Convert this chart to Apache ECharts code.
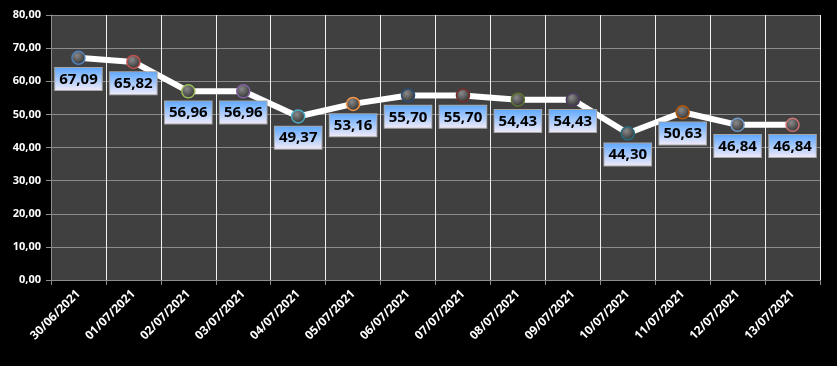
<!DOCTYPE html>
<html><head><meta charset="utf-8">
<script src="https://cdn.jsdelivr.net/npm/echarts@6/dist/echarts.min.js"></script>
<style>html,body{margin:0;padding:0;background:#000;}#c{width:837px;height:366px;}</style>
</head><body><div id="c"></div>
<script>
const categories = ['30/06/2021','01/07/2021','02/07/2021','03/07/2021','04/07/2021','05/07/2021','06/07/2021','07/07/2021','08/07/2021','09/07/2021','10/07/2021','11/07/2021','12/07/2021','13/07/2021'];
const values = [67.09,65.82,56.96,56.96,49.37,53.16,55.70,55.70,54.43,54.43,44.30,50.63,46.84,46.84];
const pointColors = ['#4F81BD','#C0504D','#9BBB59','#8064A2','#4BACC6','#F79646','#2C4D75','#772C2A','#5F7530','#4D3B62','#276A7C','#B65708','#729ACA','#CD7371'];

const fmt = v => v.toFixed(2).replace('.', ',');
const chart = echarts.init(document.getElementById('c'), null, {renderer:'canvas'});
const font = "'Open Sans', 'Liberation Sans', Arial, sans-serif";
chart.setOption({
  backgroundColor:'#000',
  animation:false,
  grid:{left:51,right:17,top:15,bottom:86,show:true,backgroundColor:'#404040',borderWidth:0},
  xAxis:{type:'category',data:categories,boundaryGap:true,
    axisLine:{lineStyle:{color:'#8c8c8c',width:1}},
    axisTick:{show:true,length:5,lineStyle:{color:'#8c8c8c'}},
    splitLine:{show:true,lineStyle:{color:'#f0f0f0',width:1}},
    axisLabel:{rotate:45,color:'#ffffff',fontWeight:'bold',fontSize:12,fontFamily:font,margin:12,interval:0}},
  yAxis:{type:'value',min:0,max:80,interval:10,
    axisLine:{show:true,lineStyle:{color:'#8c8c8c'}},
    axisTick:{show:true,length:5,lineStyle:{color:'#8c8c8c'}},
    splitLine:{lineStyle:{color:'#8c8c8c',width:1}},
    axisLabel:{color:'#ffffff',fontWeight:'bold',fontSize:11,fontFamily:font,margin:10,formatter:v=>fmt(v)}},
  series:[{type:'line',
    data:values.map((v,i)=>({value:v,itemStyle:{borderColor:pointColors[i]}})),
    lineStyle:{color:'#ffffff',width:6},
    symbol:'circle',symbolSize:13,
    itemStyle:{color:{type:'radial',x:0.4,y:0.35,r:0.7,colorStops:[{offset:0,color:'#8a8a8a'},{offset:1,color:'#2a2a2a'}]},borderWidth:1.5},
    label:{show:true,position:'bottom',distance:3,
      formatter:p=>fmt(p.value),
      color:'#000',fontWeight:'bold',fontSize:15,fontFamily:font,lineHeight:17,
      padding:[3,4,2,4],
      borderColor:'#a6a6a6',borderWidth:1,
      backgroundColor:{type:'linear',x:0,y:0,x2:0,y2:1,colorStops:[{offset:0,color:'#5aa6ff'},{offset:1,color:'#f4ecf8'}]}},
    z:3
  }]
});
</script></body></html>
